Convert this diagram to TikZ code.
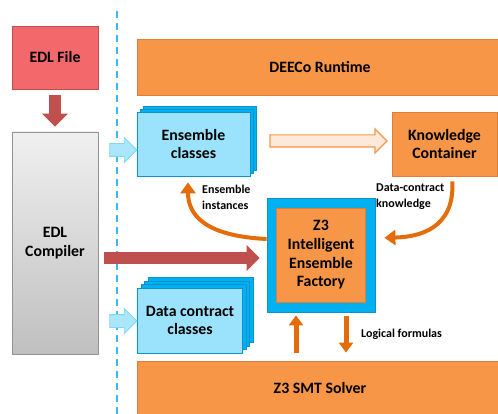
\documentclass[tikz,border=0pt]{standalone}
\usepackage{fontspec}
\setmainfont{Carlito}
\usepackage{tikz}
\usetikzlibrary{arrows.meta}
\usetikzlibrary{shapes.arrows}
\usetikzlibrary{calc}

\definecolor{deecoorange}{HTML}{F79646}
\definecolor{deecoedge}{HTML}{DD7F3A}
\definecolor{flowarrow}{HTML}{E46C0A}
\definecolor{edlred}{HTML}{F2686B}
\definecolor{darkred}{HTML}{C0504D}
\definecolor{lightblue}{HTML}{9BE3FD}
\definecolor{midblue}{HTML}{00B0F0}
\definecolor{blueedge}{HTML}{0A93CC}
\definecolor{sepblue}{HTML}{3DB8EE}
\definecolor{peach}{HTML}{FDE9D9}

\begin{document}
\begin{tikzpicture}[x=1pt, y=-1pt,
    every node/.style={font=\bfseries\fontsize{15.8pt}{18.7pt}\selectfont, align=center, inner sep=0pt},
    orangebox/.style={draw=deecoedge, fill=deecoorange, line width=0.8pt},
    classbox/.style={draw=blueedge, fill=lightblue, line width=0.8pt},
    classback/.style={draw=blueedge, fill=midblue, line width=0.8pt},
    smalllabel/.style={font=\bfseries\fontsize{12pt}{16pt}\selectfont, align=left},
    redarrow/.style={draw=darkred, line width=12pt, -{Triangle[length=13pt, width=25pt]}},
    curvearrow/.style={draw=flowarrow, line width=4pt, -{Triangle[length=11pt, width=15pt]}},
    upright/.style={draw=flowarrow, line width=5pt, -{Triangle[length=10pt, width=14pt]}},
    blockarrow/.style={single arrow, single arrow head extend=6pt, line width=0.8pt}]
    \useasboundingbox (0,0) rectangle (498,414);

    % left column
    \node[draw=darkred, fill=edlred, line width=0.8pt, minimum width=86pt, minimum height=63pt] (edlfile) at (55,57.5) {EDL File};
    \node[draw=gray!85, top color=gray!12, bottom color=gray!50, line width=0.8pt, minimum width=86pt, minimum height=222pt] (compiler) at (55,243) {EDL\\Compiler};

    \draw[sepblue, line width=2.5pt, dash pattern=on 7pt off 5pt] (117,11) -- (117,414);

    % runtime side
    \node[orangebox, minimum width=366pt, minimum height=56pt] (runtime) at (320,67) {DEECo Runtime};
    \node[orangebox, minimum width=366pt, minimum height=55pt] (smt) at (320,388.5) {Z3 SMT Solver};

    \foreach \d in {6,3}
        \node[classback, minimum width=113pt, minimum height=64pt] at ($(193.5,144)+(\d,-\d)$) {};
    \node[classbox, minimum width=113pt, minimum height=64pt] (ensemble) at (193.5,144) {Ensemble\\classes};

    \foreach \d in {10.5,7,3.5}
        \node[classback, minimum width=105pt, minimum height=65pt] at ($(190,320.5)+(\d,-\d)$) {};
    \node[classbox, minimum width=105pt, minimum height=65pt] (datacontract) at (190,320.5) {Data contract\\classes};

    \node[orangebox, minimum width=105pt, minimum height=64pt] (knowledge) at (444.5,144) {Knowledge\\Container};

    \node[draw=blueedge, fill=midblue, line width=0.8pt, minimum width=108pt, minimum height=114pt] (z3box) at (321,255) {};
    \node[orangebox, minimum width=89pt, minimum height=94pt] (z3) at (z3box.center) {Z3\\Intelligent\\Ensemble\\Factory};

    % block arrows
    \node[blockarrow, draw=lightblue!80!midblue, fill=lightblue!85!white, minimum height=27pt, minimum width=24pt, inner sep=6pt] (toensemble) at (120,150) {};
    \node[blockarrow, draw=lightblue!80!midblue, fill=lightblue!85!white, minimum height=27pt, minimum width=24pt, inner sep=6pt] (tocontract) at (120,321) {};
    \node[blockarrow, draw=deecoorange, fill=peach, line width=1.2pt, minimum height=117pt, minimum width=24pt, inner sep=5.5pt] (toknowledge) at (325.5,141) {};

    \draw[redarrow, shorten <=6pt, shorten >=5pt] (edlfile) -- (compiler);
    \coordinate (gen) at ([yshift=-15pt]compiler.east);
    \draw[redarrow, shorten <=6pt, shorten >=7pt] (gen) -- (gen -| z3box.west);

    % flows around the factory
    \draw[curvearrow, shorten >=6pt] ([yshift=16pt]z3box.west) .. controls (205,236) and (188,215) .. ([xshift=-5.5pt]ensemble.south);
    \draw[curvearrow, shorten <=5pt, shorten >=9pt] ([xshift=7.5pt]knowledge.south) .. controls (455,228) and (420,237) .. ([yshift=17pt]z3box.east);

    \coordinate (answer) at ([xshift=-25pt]z3box.south);
    \coordinate (query) at ([xshift=25pt]z3box.south);
    \draw[upright, shorten <=8pt, shorten >=3pt] (answer |- smt.north) -- (answer);
    \draw[upright, shorten <=4pt, shorten >=8pt] (query) -- (query |- smt.north);

    \node[smalllabel, anchor=west] (instlabel) at (202,197) {Ensemble\\instances};
    \node[smalllabel, anchor=west] (knowlabel) at (376,197) {Data-contract\\knowledge};
    \node[smalllabel, anchor=west] (logiclabel) at (361,334) {Logical formulas};
\end{tikzpicture}
\end{document}
